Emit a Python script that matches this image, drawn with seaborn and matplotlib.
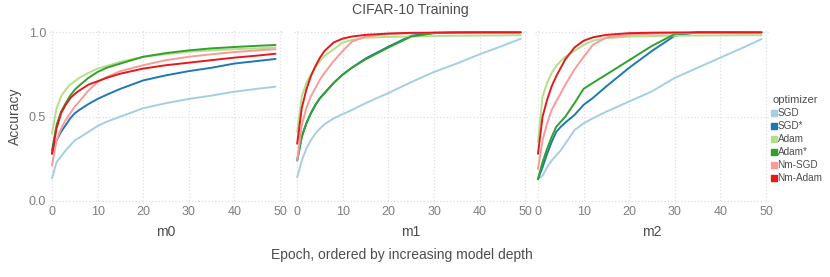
import numpy as np
import pandas as pd
import seaborn as sns
import matplotlib.pyplot as plt
from matplotlib.lines import Line2D

epochs = [0, 1, 2, 3, 4, 5, 6, 8, 10, 12, 15, 20, 25, 30, 35, 40, 45, 49]
optimizers = ['SGD', 'SGD*', 'Adam', 'Adam*', 'Nm-SGD', 'Nm-Adam']
models = ['m0', 'm1', 'm2']

m0_sgd = [0.135, 0.23, 0.265, 0.30, 0.33, 0.36, 0.375, 0.41, 0.445, 0.47, 0.50, 0.55, 0.58, 0.605, 0.625, 0.648, 0.665, 0.678]
m0_sgd_star = [0.28, 0.36, 0.41, 0.45, 0.49, 0.52, 0.54, 0.575, 0.605, 0.63, 0.665, 0.715, 0.745, 0.77, 0.79, 0.815, 0.83, 0.842]
m0_adam = [0.40, 0.55, 0.62, 0.66, 0.69, 0.71, 0.73, 0.76, 0.785, 0.80, 0.825, 0.855, 0.87, 0.885, 0.893, 0.90, 0.905, 0.91]
m0_adam_star = [0.30, 0.45, 0.53, 0.58, 0.625, 0.66, 0.685, 0.73, 0.765, 0.79, 0.815, 0.855, 0.877, 0.893, 0.905, 0.913, 0.92, 0.925]
m0_nm_sgd = [0.21, 0.36, 0.43, 0.48, 0.52, 0.56, 0.59, 0.655, 0.705, 0.735, 0.77, 0.805, 0.835, 0.855, 0.87, 0.883, 0.893, 0.90]
m0_nm_adam = [0.28, 0.43, 0.52, 0.57, 0.61, 0.635, 0.655, 0.69, 0.71, 0.73, 0.755, 0.785, 0.805, 0.82, 0.835, 0.85, 0.862, 0.873]

m1_sgd = [0.14, 0.24, 0.31, 0.36, 0.40, 0.43, 0.455, 0.49, 0.515, 0.54, 0.58, 0.64, 0.705, 0.765, 0.815, 0.87, 0.92, 0.962]
m1_sgd_star = [0.24, 0.38, 0.46, 0.52, 0.57, 0.61, 0.64, 0.70, 0.75, 0.79, 0.845, 0.915, 0.98, 0.997, 1.0, 1.0, 1.0, 1.0]
m1_adam = [0.41, 0.62, 0.70, 0.75, 0.79, 0.83, 0.86, 0.90, 0.94, 0.955, 0.968, 0.973, 0.976, 0.978, 0.98, 0.981, 0.982, 0.983]
m1_adam_star = [0.24, 0.38, 0.46, 0.52, 0.57, 0.61, 0.64, 0.70, 0.75, 0.79, 0.84, 0.91, 0.975, 0.995, 1.0, 1.0, 1.0, 1.0]
m1_nm_sgd = [0.24, 0.45, 0.55, 0.62, 0.67, 0.72, 0.76, 0.83, 0.89, 0.945, 0.975, 0.99, 0.995, 0.997, 0.998, 0.999, 0.999, 1.0]
m1_nm_adam = [0.34, 0.55, 0.66, 0.74, 0.80, 0.85, 0.89, 0.94, 0.963, 0.975, 0.985, 0.993, 0.997, 0.998, 0.999, 1.0, 1.0, 1.0]

m2_sgd = [0.13, 0.15, 0.20, 0.24, 0.27, 0.30, 0.34, 0.42, 0.46, 0.49, 0.53, 0.59, 0.65, 0.73, 0.79, 0.85, 0.91, 0.96]
m2_sgd_star = [0.13, 0.20, 0.28, 0.35, 0.41, 0.44, 0.465, 0.51, 0.57, 0.61, 0.68, 0.79, 0.89, 0.98, 1.0, 1.0, 1.0, 1.0]
m2_adam = [0.35, 0.62, 0.70, 0.76, 0.80, 0.83, 0.855, 0.89, 0.925, 0.95, 0.965, 0.975, 0.978, 0.98, 0.981, 0.982, 0.983, 0.983]
m2_adam_star = [0.13, 0.23, 0.31, 0.38, 0.44, 0.47, 0.50, 0.58, 0.665, 0.70, 0.75, 0.835, 0.92, 0.99, 1.0, 1.0, 1.0, 1.0]
m2_nm_sgd = [0.19, 0.36, 0.46, 0.54, 0.59, 0.64, 0.69, 0.78, 0.855, 0.925, 0.97, 0.985, 0.992, 0.995, 0.997, 0.998, 0.999, 1.0]
m2_nm_adam = [0.28, 0.50, 0.60, 0.68, 0.74, 0.79, 0.84, 0.91, 0.95, 0.97, 0.985, 0.995, 0.998, 0.999, 1.0, 1.0, 1.0, 1.0]

series = {
    'm0': [m0_sgd, m0_sgd_star, m0_adam, m0_adam_star, m0_nm_sgd, m0_nm_adam],
    'm1': [m1_sgd, m1_sgd_star, m1_adam, m1_adam_star, m1_nm_sgd, m1_nm_adam],
    'm2': [m2_sgd, m2_sgd_star, m2_adam, m2_adam_star, m2_nm_sgd, m2_nm_adam],
}

rows = []
for m in models:
    for opt, vals in zip(optimizers, series[m]):
        for e, v in zip(epochs, vals):
            rows.append({'model': m, 'optimizer': opt, 'epoch': e, 'accuracy': v})
df = pd.DataFrame(rows)

sns.set_theme(style='white')
plt.rcParams['font.family'] = ['Liberation Sans', 'DejaVu Sans']

palette = dict(zip(optimizers, sns.color_palette('Paired', 6)))
text_col = '#4d4d4d'
tick_col = '#7f7f7f'
grid_col = '#dcdfe8'

fig = plt.figure(figsize=(8.3, 2.77), dpi=100)
W, H = 830, 277
lefts = [48.8, 294.0, 534.8]
pw = 234.0
top_px, bot_px = 29.8, 203.5

for i, (m, lx) in enumerate(zip(models, lefts)):
    ax = fig.add_axes([lx / W, 1 - bot_px / H, pw / W, (bot_px - top_px) / H])
    sns.lineplot(data=df[df['model'] == m], x='epoch', y='accuracy', hue='optimizer',
                 hue_order=optimizers, palette=palette, linewidth=1.4, ax=ax, legend=False)
    ax.set_xlim(-0.7, 50.6)
    ax.set_ylim(-0.015, 1.015)
    ax.set_xticks([0, 10, 20, 30, 40, 50])
    ax.set_yticks([0.0, 0.5, 1.0])
    ax.grid(True, linestyle=':', color=grid_col, linewidth=0.9)
    ax.set_axisbelow(True)
    for s in ax.spines.values():
        s.set_visible(False)
    ax.tick_params(length=0, labelsize=9, labelcolor=tick_col, pad=2)
    ax.set_xlabel(m, fontsize=10, color=text_col, labelpad=5)
    if i == 0:
        ax.set_ylabel('Accuracy', fontsize=10, color=text_col, labelpad=5)
        ax.set_yticklabels(['0.0', '0.5', '1.0'])
    else:
        ax.set_ylabel('')
        ax.set_yticklabels([])

fig.text(410 / W, 1 - 10 / H, 'CIFAR-10 Training', ha='center', va='center',
         fontsize=10.2, color=text_col)
fig.text(402 / W, 1 - 255 / H, 'Epoch, ordered by increasing model depth', ha='center',
         va='center', fontsize=10, color=text_col)

handles = [Line2D([0], [0], marker='s', linestyle='', markersize=3.8,
                  markerfacecolor=palette[o], markeredgecolor=palette[o]) for o in optimizers]
leg = fig.legend(handles, optimizers, title='optimizer', loc='upper left',
                 bbox_to_anchor=(770 / W, 1 - 93 / H), frameon=False, fontsize=7.2,
                 title_fontsize=8, handlelength=0.35, handletextpad=0.2,
                 labelspacing=0.3, borderpad=0.2, borderaxespad=0)
leg._legend_box.align = 'left'
for t in leg.get_texts():
    t.set_color(text_col)
leg.get_title().set_color(text_col)

fig.savefig('out.png', dpi=100)
